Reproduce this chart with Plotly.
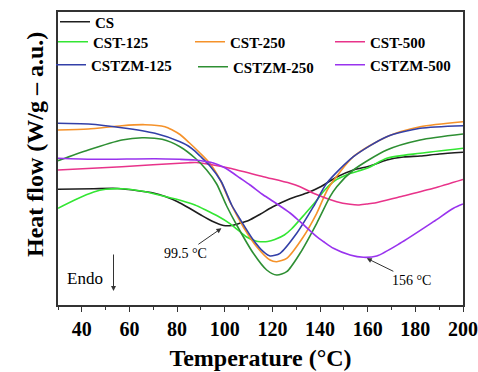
import plotly.graph_objects as go

# Temperature (°C) / heat flow (a.u.)
cs_t = [30, 45, 55, 63.6, 70, 75, 80, 85, 90, 95, 99.5, 103, 106, 110, 115, 120, 127.4, 135, 140, 147, 154, 161, 168, 175, 182, 190, 200]
cs_y = [115.7, 116.3, 116.5, 114.3, 112, 108.5, 103.5, 97, 90, 83.5, 79.5, 79.5, 81.5, 84.5, 91, 98, 106.3, 112.5, 118, 128, 135, 139, 145, 148, 149, 151, 152.7]

cst125_t = [30, 37, 45, 50, 57, 65, 75, 82, 87.5, 92, 97, 102, 106, 109, 113, 115, 118, 121, 125, 128, 134, 138, 142, 146, 152, 160, 168, 182, 200]
cst125_y = [96.7, 105, 113, 115.7, 116.3, 114, 108.5, 104.3, 100, 95, 89, 81.7, 74, 68.3, 64, 63.3, 63.5, 65.5, 70, 76, 92, 103, 115, 124, 131, 137, 146.7, 151.7, 156.7]

cst250_t = [30, 42.7, 56.8, 66.5, 74.9, 78, 81.2, 85, 89.6, 93.8, 98, 102.2, 107.8, 113.4, 119, 121.8, 126, 133, 138.6, 143.5, 154, 168, 182, 200]
cst250_y = [175, 176, 179.3, 180.3, 178.3, 175, 170.5, 162.5, 152, 141.5, 125.5, 103, 78, 58.3, 45, 43.3, 46.7, 68.3, 91.7, 117, 148.3, 168.3, 178.3, 183.3]

cst500_t = [30, 56.8, 84.7, 88, 95.2, 102.2, 116.2, 127.4, 131.6, 138, 147, 152.6, 156, 159.6, 163, 173.6, 187.6, 200]
cst500_y = [135, 138.3, 142.3, 142.5, 140, 136.7, 128.3, 121.7, 118.3, 111, 103.3, 100.7, 100, 101, 102, 108.3, 116.7, 125.5]

cstzm125_t = [30, 42.7, 56.8, 70.7, 81.2, 84.7, 87.5, 89.6, 93.8, 98.5, 102.9, 106.4, 112, 116.2, 119, 123.2, 130.2, 137.2, 142.8, 154, 168, 182, 200]
cstzm125_y = [181.7, 181, 177.3, 171.7, 163.3, 159, 153.8, 149, 139, 123.5, 100, 86, 65, 53.3, 49, 51.7, 71.7, 98.3, 121.7, 148.3, 168.3, 176.7, 179.3]

cstzm250_t = [30, 42.7, 56.8, 65.3, 73.7, 81.2, 87.5, 92.4, 96.6, 100.8, 105, 112, 117.6, 121.8, 126, 131.6, 138.6, 144.2, 147, 154, 168, 182, 200]
cstzm250_y = [144.3, 155, 165, 167.3, 165.7, 158.3, 147, 135, 121, 99, 80, 51.7, 35, 30, 33.3, 51.7, 81.7, 108.3, 118.3, 135, 155, 165, 171]

cstzm500_t = [30, 45, 70.7, 81, 87.5, 92, 95.2, 99.4, 102.2, 106.4, 110.6, 116.2, 120.4, 123.2, 127.4, 131.6, 138.6, 141.4, 145.6, 152.6, 158.2, 163.8, 173.6, 187.6, 196, 200]
cstzm500_y = [146.7, 145.7, 146.3, 145.7, 145, 143.5, 142, 138, 134, 127, 120, 110, 103.5, 99, 92, 83.3, 68.3, 63.5, 56.7, 50, 47.7, 49, 61.7, 83.3, 96.7, 101]

x_ticks = [40, 60, 80, 100, 120, 140, 160, 180, 200]

series = [
    ("CS", cs_t, cs_y, "#1e1e1e"),
    ("CST-125", cst125_t, cst125_y, "#33e633"),
    ("CST-250", cst250_t, cst250_y, "#f5922a"),
    ("CST-500", cst500_t, cst500_y, "#e8338a"),
    ("CSTZM-125", cstzm125_t, cstzm125_y, "#3340a8"),
    ("CSTZM-250", cstzm250_t, cstzm250_y, "#2e8f33"),
    ("CSTZM-500", cstzm500_t, cstzm500_y, "#9933ee"),
]
# legend entry anchor positions in pixels (left of entry, row centre)
legend_px = [(55, 22), (53, 42), (190, 42), (330, 42), (51, 65), (193, 67), (330, 65)]

PL, PR, PT, PB = 58, 463, 12, 305
SERIF = "Liberation Serif"
fig = go.Figure()
layout_legends = {}
for i, ((name, t, y, col), (lx, ly)) in enumerate(zip(series, legend_px)):
    key = "legend" if i == 0 else f"legend{i + 1}"
    fig.add_trace(go.Scatter(x=t, y=y, mode="lines", name=name,
                             line=dict(color=col, width=1.6, shape="spline", smoothing=0.7),
                             legend=key))
    layout_legends[key] = dict(
        x=(lx - PL) / (PR - PL), y=(PB - ly) / (PB - PT),
        xanchor="left", yanchor="middle", bgcolor="rgba(0,0,0,0)",
        font=dict(family=SERIF, size=15, color="black", weight="bold"),
        itemwidth=30)

fig.update_layout(
    width=478, height=372,
    margin=dict(l=PL, r=478 - PR, t=PT, b=372 - PB, autoexpand=False),
    plot_bgcolor="white", paper_bgcolor="white",
    showlegend=True,
    xaxis=dict(range=[30, 200], tickvals=x_ticks, ticks="outside", ticklen=5, tickwidth=1.2,
               tickcolor="#333", showgrid=False, zeroline=False,
               showline=True, linecolor="#333", linewidth=1.5, mirror=True,
               tickfont=dict(family=SERIF, size=20, color="black", weight="bold"),
               minor=dict(dtick=10, tick0=30, ticks="outside", ticklen=3, tickcolor="#333"),
               title=dict(text="Temperature (°C)", font=dict(family=SERIF, size=24, color="black", weight="bold"),
                          standoff=10)),
    yaxis=dict(range=[0, 293], showticklabels=False, ticks="", showgrid=False, zeroline=False,
               showline=True, linecolor="#333", linewidth=1.5, mirror=True),
    **layout_legends,
)

ann_font = dict(family=SERIF, size=14, color="black")
fig.add_annotation(x=98.6, y=76.7, text="99.5 °C", showarrow=True, ax=-36, ay=25,
                   arrowhead=2, arrowsize=1, arrowwidth=1, arrowcolor="#333", font=ann_font)
fig.add_annotation(x=159.6, y=46.7, text="156 °C", showarrow=True, ax=45, ay=22,
                   arrowhead=2, arrowsize=1, arrowwidth=1, arrowcolor="#333", font=ann_font)
fig.add_annotation(x=41.3, y=26.7, text="Endo", showarrow=False,
                   font=dict(family=SERIF, size=17, color="black"))
fig.add_annotation(x=53.3, y=14, text="", showarrow=True, ax=0, ay=-38,
                   arrowhead=2, arrowsize=1, arrowwidth=1, arrowcolor="#333")
fig.add_annotation(xref="paper", yref="paper", x=(20 - PL) / (PR - PL), y=(PB - 145) / (PB - PT),
                   text="Heat flow (W/g – a.u.)", textangle=-90, showarrow=False,
                   font=dict(family=SERIF, size=24, color="black", weight="bold"))

fig.write_html("out.html")
